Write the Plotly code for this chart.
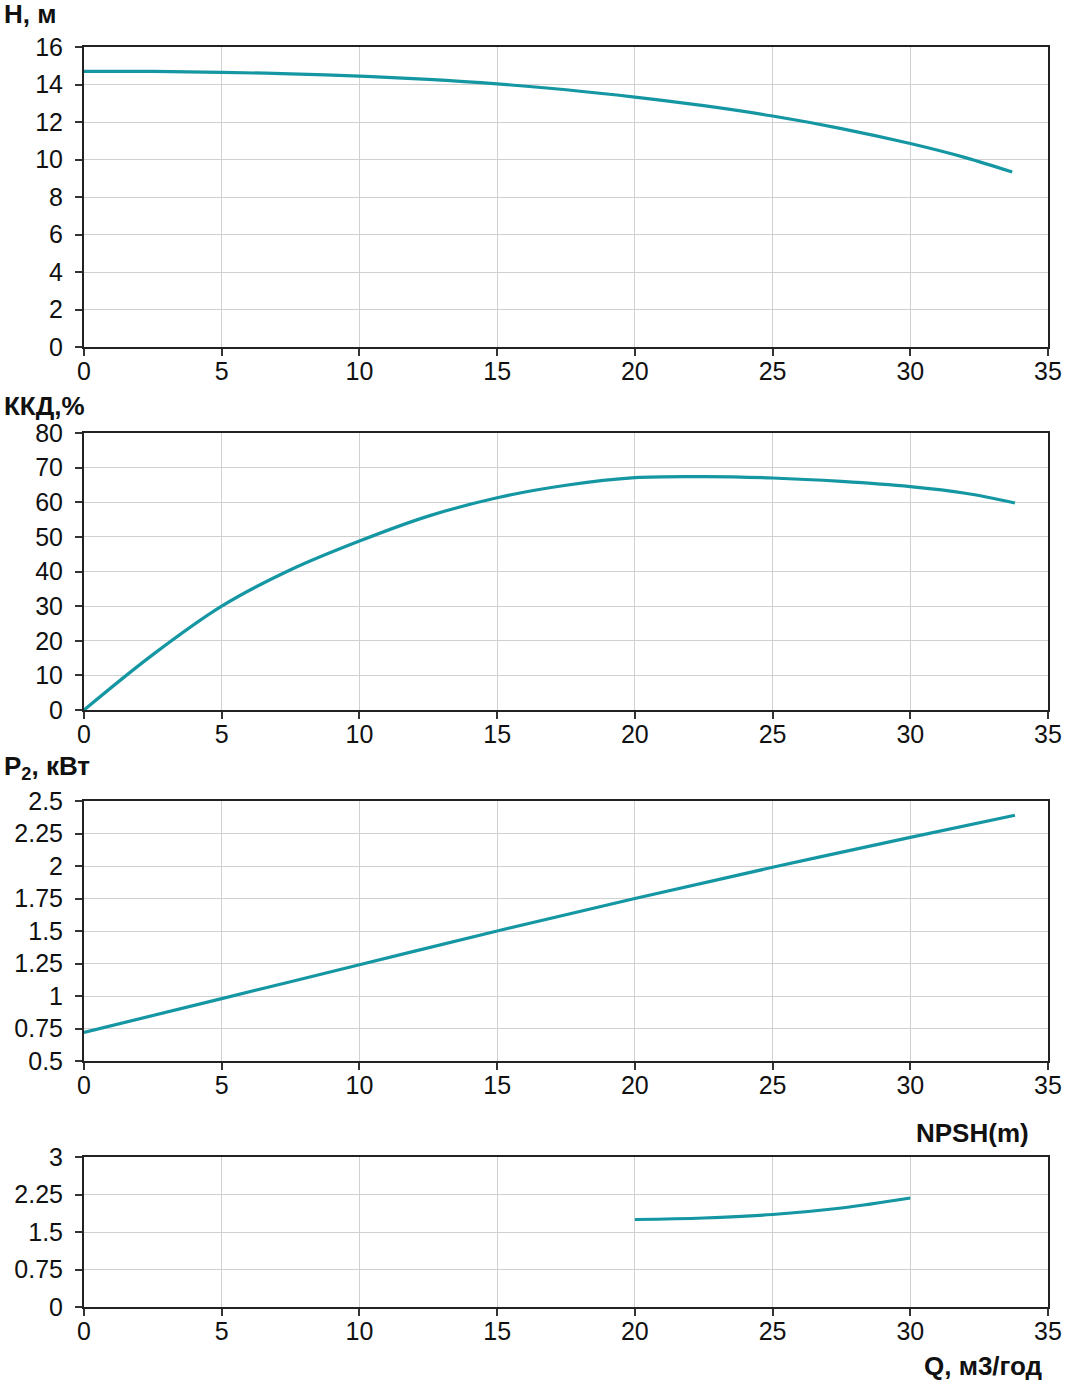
import plotly.graph_objects as go

# Data
q_h = [0, 2.5, 5, 7.5, 10, 12.5, 15, 17.5, 20, 22.5, 25, 27.5, 30, 32, 33.7]
h = [14.7, 14.7, 14.65, 14.57, 14.45, 14.27, 14.03, 13.72, 13.33, 12.87, 12.32, 11.65, 10.85, 10.1, 9.33]

q_eff = [0, 2.5, 5, 7.5, 10, 12.5, 15, 17.5, 20, 22.5, 25, 27.5, 30, 32, 33.8]
eff = [0, 16, 30, 40.5, 48.8, 56, 61.3, 64.9, 67.1, 67.4, 67.0, 66.0, 64.5, 62.6, 59.8]

q_p = [0, 5, 10, 15, 20, 25, 30, 33.8]
p2 = [0.72, 0.98, 1.24, 1.50, 1.75, 1.99, 2.22, 2.39]

q_npsh = [20, 22.5, 25, 27.5, 30]
npsh = [1.75, 1.78, 1.85, 1.98, 2.18]

x_ticks = [0, 5, 10, 15, 20, 25, 30, 35]
y1_ticks = [0, 2, 4, 6, 8, 10, 12, 14, 16]
y2_ticks = [0, 10, 20, 30, 40, 50, 60, 70, 80]
y3_ticks = [0.5, 0.75, 1, 1.25, 1.5, 1.75, 2, 2.25, 2.5]
y3_text = ["0.5", "0.75", "1", "1.25", "1.5", "1.75", "2", "2.25", "2.5"]
y4_ticks = [0, 0.75, 1.5, 2.25, 3]
y4_text = ["0", "0.75", "1.5", "2.25", "3"]

W, H = 1066, 1386
LINE = "#1597a3"
FONT = "Liberation Sans, Arial, sans-serif"

def px_x(p):
    return p / W

def px_y(p):
    return 1 - p / H

xd = [px_x(84), px_x(1048)]
panels = [
    (47, 347), (433, 710), (801, 1061), (1157, 1307)
]

fig = go.Figure()
series = [(q_h, h), (q_eff, eff), (q_p, p2), (q_npsh, npsh)]
for i, (xs, ys) in enumerate(series):
    sfx = "" if i == 0 else str(i + 1)
    fig.add_trace(go.Scatter(x=xs, y=ys, mode="lines", line=dict(color=LINE, width=3.2, shape="spline"),
                             xaxis="x" + sfx, yaxis="y" + sfx, showlegend=False, hoverinfo="skip"))

common_axis = dict(showline=True, linecolor="#222222", linewidth=2, mirror=True,
                   ticks="outside", ticklen=7, tickwidth=1.5, tickcolor="#333333",
                   gridcolor="#d0d0d0", gridwidth=1, zeroline=False, automargin=False,
                   tickfont=dict(family=FONT, size=25, color="#111111"))

yinfo = [
    ([0, 16], y1_ticks, [str(v) for v in y1_ticks]),
    ([0, 80], y2_ticks, [str(v) for v in y2_ticks]),
    ([0.5, 2.5], y3_ticks, y3_text),
    ([0, 3], y4_ticks, y4_text),
]

layout = dict(width=W, height=H, margin=dict(l=0, r=0, t=0, b=0, pad=0, autoexpand=False),
              paper_bgcolor="white", plot_bgcolor="white", showlegend=False)
for i, (top, bot) in enumerate(panels):
    sfx = "" if i == 0 else str(i + 1)
    rng, tv, tt = yinfo[i]
    layout["xaxis" + sfx] = dict(common_axis, domain=xd, range=[0, 35], tickvals=x_ticks,
                                 anchor="y" + sfx, ticklabelstandoff=-6)
    layout["yaxis" + sfx] = dict(common_axis, domain=[px_y(bot), px_y(top)], range=rng,
                                 tickvals=tv, ticktext=tt, anchor="x" + sfx, ticklabelstandoff=7)
fig.update_layout(**layout)

titles = [
    ("<b>H, м</b>", 2, 14, "left"),
    ("<b>ККД,%</b>", 2, 406, "left"),
    ("<b>P<sub>2</sub>, кВт</b>", 2, 767, "left"),
    ("<b>NPSH(m)</b>", 1031, 1133, "right"),
    ("<b>Q, м3/год</b>", 1045, 1366, "right"),
]
for text, x, y, anc in titles:
    fig.add_annotation(text=text, x=px_x(x), y=px_y(y), xref="paper", yref="paper",
                       xanchor=anc, yanchor="middle", showarrow=False,
                       font=dict(family=FONT, size=26, color="#111111"))

fig.write_html("out.html",
               post_script="document.body.style.margin='0';document.body.style.overflow='hidden';")
